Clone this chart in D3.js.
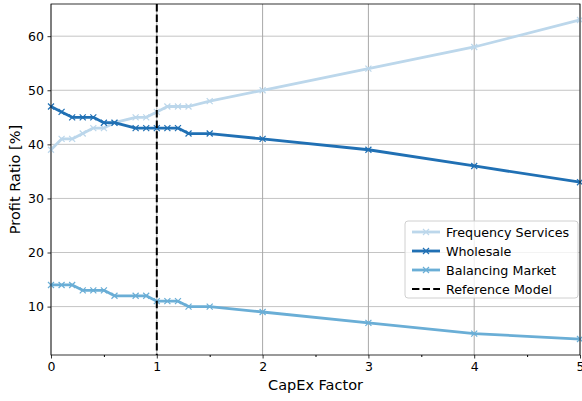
<!DOCTYPE html>
<html>
<head>
<meta charset="utf-8">
<script src="https://cdn.jsdelivr.net/npm/d3@7"></script>
<style>
  body { margin: 0; background: #fff; }
  svg { font-family: "DejaVu Sans", sans-serif; }
</style>
</head>
<body>
<div id="chart"></div>
<script>
const capex = [0, 0.1, 0.2, 0.3, 0.4, 0.5, 0.6, 0.8, 0.9, 1.0, 1.1, 1.2, 1.3, 1.5, 2, 3, 4, 5];
const frequency = [39, 41, 41, 42, 43, 43, 44, 45, 45, 46, 47, 47, 47, 48, 50, 54, 58, 63];
const wholesale = [47, 46, 45, 45, 45, 44, 44, 43, 43, 43, 43, 43, 42, 42, 41, 39, 36, 33];
const balancing = [14, 14, 14, 13, 13, 13, 12, 12, 12, 11, 11, 11, 10, 10, 9, 7, 5, 4];
const seriesNames = ['Frequency Services', 'Wholesale', 'Balancing Market'];
const seriesColors = ['#bcd7eb', '#2070b4', '#6aaed6'];
const referenceX = 1;
const xTicks = [0, 1, 2, 3, 4, 5];
const yTicks = [10, 20, 30, 40, 50, 60];

const width = 582, height = 401;
const margin = { top: 4, right: 2, bottom: 46, left: 51 };
const innerW = width - margin.left - margin.right;
const innerH = height - margin.top - margin.bottom;

const svg = d3.select('#chart').append('svg')
  .attr('width', width)
  .attr('height', height);

const g = svg.append('g').attr('transform', `translate(${margin.left},${margin.top})`);

const x = d3.scaleLinear().domain([0, 5]).range([0, innerW]);
const y = d3.scaleLinear().domain([1.05, 65.95]).range([innerH, 0]);

// grid
g.append('g').selectAll('line')
  .data(yTicks)
  .join('line')
  .attr('x1', 0).attr('x2', innerW)
  .attr('y1', d => y(d)).attr('y2', d => y(d))
  .attr('stroke', '#c4c4c4').attr('stroke-width', 1);
g.append('g').selectAll('line')
  .data(xTicks)
  .join('line')
  .attr('x1', d => x(d)).attr('x2', d => x(d))
  .attr('y1', 0).attr('y2', innerH)
  .attr('stroke', '#a8a8a8').attr('stroke-width', 1);

// series
const allSeries = [frequency, wholesale, balancing];
const line = d3.line().x(d => x(d[0])).y(d => y(d[1]));

allSeries.forEach((vals, i) => {
  const pts = capex.map((c, j) => [c, vals[j]]);
  g.append('path')
    .datum(pts)
    .attr('d', line)
    .attr('fill', 'none')
    .attr('stroke', seriesColors[i])
    .attr('stroke-width', 2.8)
    .attr('stroke-linejoin', 'round');
  g.append('g').selectAll('path')
    .data(pts)
    .join('path')
    .attr('d', d => {
      const px = x(d[0]), py = y(d[1]), s = 3;
      return `M${px - s},${py - s}L${px + s},${py + s}M${px - s},${py + s}L${px + s},${py - s}`;
    })
    .attr('stroke', seriesColors[i])
    .attr('stroke-width', 1.2);
});

// reference model line
g.append('line')
  .attr('x1', x(referenceX)).attr('x2', x(referenceX))
  .attr('y1', 0).attr('y2', innerH)
  .attr('stroke', '#000')
  .attr('stroke-width', 2)
  .attr('stroke-dasharray', '7.4,3.2');

// axes
const xAxis = g.append('g')
  .attr('transform', `translate(0,${innerH})`)
  .call(d3.axisBottom(x).tickValues(xTicks).tickFormat(d3.format('d')).tickSize(3.5).tickPadding(3.5));
g.append('g')
  .attr('transform', `translate(0,${innerH})`)
  .call(d3.axisBottom(x).tickValues(d3.range(0.5, 5, 1)).tickFormat('').tickSize(2))
  .call(a => a.select('.domain').remove());
const yAxis = g.append('g')
  .call(d3.axisLeft(y).tickValues(yTicks).tickSize(3.5).tickPadding(3.5));

[xAxis, yAxis].forEach(a => {
  a.selectAll('text').attr('font-size', 12.5).attr('fill', '#000')
    .attr('font-family', '"DejaVu Sans", sans-serif');
  a.selectAll('line').attr('stroke', '#000').attr('stroke-width', 0.8);
  a.select('.domain').remove();
});

// frame
g.append('rect')
  .attr('x', 0).attr('y', 0)
  .attr('width', innerW).attr('height', innerH)
  .attr('fill', 'none')
  .attr('stroke', '#000')
  .attr('stroke-width', 0.8);

// axis labels
svg.append('text')
  .attr('x', margin.left + innerW / 2)
  .attr('y', 390)
  .attr('text-anchor', 'middle')
  .attr('font-size', 14.5)
  .text('CapEx Factor');
svg.append('text')
  .attr('transform', `translate(20,${margin.top + innerH / 2}) rotate(-90)`)
  .attr('text-anchor', 'middle')
  .attr('font-size', 14.5)
  .text('Profit Ratio [%]');

// legend
const legendItems = seriesNames.map((n, i) => ({ name: n, color: seriesColors[i], dashed: false }))
  .concat([{ name: 'Reference Model', color: '#000', dashed: true }]);
const legend = svg.append('g').attr('transform', 'translate(405,221)');
legend.append('rect')
  .attr('width', 173).attr('height', 77)
  .attr('rx', 3)
  .attr('fill', 'rgba(255,255,255,0.8)')
  .attr('stroke', '#d0d0d0');
legendItems.forEach((d, i) => {
  const ly = 11 + i * 19;
  const row = legend.append('g');
  row.append('line')
    .attr('x1', 7).attr('x2', 35)
    .attr('y1', ly).attr('y2', ly)
    .attr('stroke', d.color)
    .attr('stroke-width', d.dashed ? 2 : 2.8)
    .attr('stroke-dasharray', d.dashed ? '7.4,3.2' : null);
  if (!d.dashed) {
    row.append('path')
      .attr('d', `M18,${ly - 3}L24,${ly + 3}M18,${ly + 3}L24,${ly - 3}`)
      .attr('stroke', d.color).attr('stroke-width', 1.2);
  }
  row.append('text')
    .attr('x', 41).attr('y', ly + 4.5)
    .attr('font-size', 12.7)
    .text(d.name);
});
</script>
</body>
</html>
